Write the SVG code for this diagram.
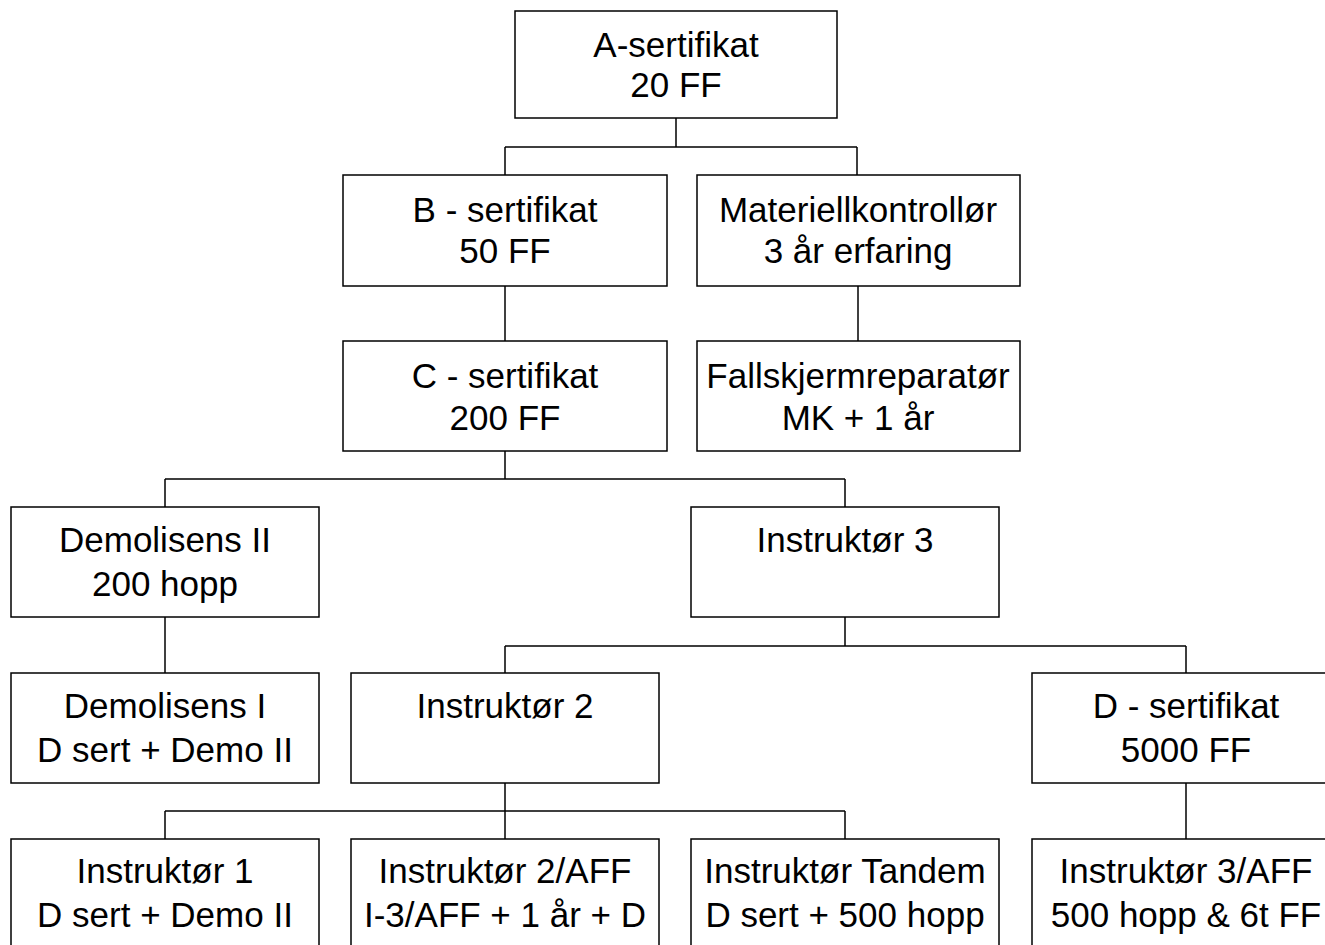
<svg xmlns="http://www.w3.org/2000/svg" width="1325" height="945" viewBox="0 0 1325 945">
<style>
rect{fill:#fff;stroke:#000;stroke-width:1.5}
text{font-family:"Liberation Sans",Arial,sans-serif;font-size:35px;fill:#000;text-anchor:middle}
#connectors path{fill:none;stroke:#000;stroke-width:1.5}
</style>
<rect x="0" y="0" width="1325" height="945" style="stroke:none"/>
<g id="connectors">
<path d="M676 118V147M505 147H857M505 147V175M857 147V175"/>
<path d="M505 286V341"/>
<path d="M858 286V341"/>
<path d="M505 451V479M165 479H845M165 479V507M845 479V507"/>
<path d="M165 617V673"/>
<path d="M845 617V646M505 646H1186M505 646V673M1186 646V673"/>
<path d="M505 783V811M165 811H845M165 811V839M505 811V839M845 811V839"/>
<path d="M1186 783V839"/>
</g>
<g id="a-sert"><rect x="515" y="11" width="322" height="107"/><text x="676" y="57">A-sertifikat</text><text x="676" y="97">20 FF</text></g>
<g id="b-sert"><rect x="343" y="175" width="324" height="111"/><text x="505" y="222">B - sertifikat</text><text x="505" y="263">50 FF</text></g>
<g id="materiell"><rect x="697" y="175" width="323" height="111"/><text x="858" y="222">Materiellkontrollør</text><text x="858" y="263">3 år erfaring</text></g>
<g id="c-sert"><rect x="343" y="341" width="324" height="110"/><text x="505" y="388">C - sertifikat</text><text x="505" y="430">200 FF</text></g>
<g id="fallskjerm"><rect x="697" y="341" width="323" height="110"/><text x="858" y="388">Fallskjermreparatør</text><text x="858" y="430">MK + 1 år</text></g>
<g id="demo2"><rect x="11" y="507" width="308" height="110"/><text x="165" y="552">Demolisens II</text><text x="165" y="596">200 hopp</text></g>
<g id="instr3"><rect x="691" y="507" width="308" height="110"/><text x="845" y="552">Instruktør 3</text></g>
<g id="demo1"><rect x="11" y="673" width="308" height="110"/><text x="165" y="718">Demolisens I</text><text x="165" y="762">D sert + Demo II</text></g>
<g id="instr2"><rect x="351" y="673" width="308" height="110"/><text x="505" y="718">Instruktør 2</text></g>
<g id="d-sert"><rect x="1032" y="673" width="308" height="110"/><text x="1186" y="718">D - sertifikat</text><text x="1186" y="762">5000 FF</text></g>
<g id="instr1"><rect x="11" y="839" width="308" height="110"/><text x="165" y="883">Instruktør 1</text><text x="165" y="927">D sert + Demo II</text></g>
<g id="instr2aff"><rect x="351" y="839" width="308" height="110"/><text x="505" y="883">Instruktør 2/AFF</text><text x="505" y="927">I-3/AFF + 1 år + D</text></g>
<g id="tandem"><rect x="691" y="839" width="308" height="110"/><text x="845" y="883">Instruktør Tandem</text><text x="845" y="927">D sert + 500 hopp</text></g>
<g id="instr3aff"><rect x="1032" y="839" width="308" height="110"/><text x="1186" y="883">Instruktør 3/AFF</text><text x="1186" y="927">500 hopp &amp; 6t FF</text></g>
</svg>
